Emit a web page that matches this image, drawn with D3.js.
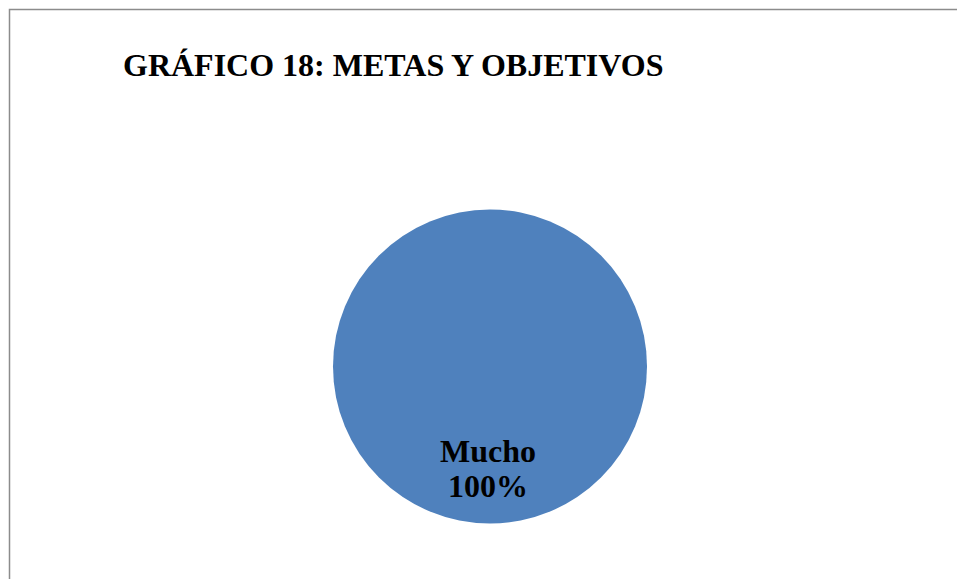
<!DOCTYPE html>
<html>
<head>
<meta charset="utf-8">
<script src="https://cdn.jsdelivr.net/npm/d3@7"></script>
<style>
  html, body { margin: 0; padding: 0; background: #fff; }
  svg { display: block; }
</style>
</head>
<body>
<svg id="chart" width="957" height="579"></svg>
<script>
// Survey answers for "metas y objetivos"
const categories = ["Mucho"];
const values = [100];
const titleText = "GRÁFICO 18: METAS Y OBJETIVOS";

const width = 957, height = 579;
const svg = d3.select("#chart");

// Chart area frame (continues past the right and bottom edges)
svg.append("rect")
  .attr("x", 9.5).attr("y", 9.5)
  .attr("width", 1000).attr("height", 1000)
  .attr("fill", "none")
  .attr("stroke", "#8c8c8c")
  .attr("stroke-width", 1.5);

svg.append("text")
  .attr("x", 123).attr("y", 76)
  .attr("font-family", "'Liberation Serif', 'Times New Roman', serif")
  .attr("font-weight", "bold")
  .attr("font-size", 32)
  .attr("fill", "#000")
  .text(titleText);

const cx = 490, cy = 366.5, radius = 157;
const data = categories.map((c, i) => ({ name: c, value: values[i] }));
const total = d3.sum(values);

const pie = d3.pie().value(d => d.value).sort(null);
const arc = d3.arc().innerRadius(0).outerRadius(radius);
const labelArc = d3.arc().innerRadius(radius * 0.73).outerRadius(radius * 0.73);

const color = d3.scaleOrdinal().domain(categories).range(["#4f81bd"]);

const g = svg.append("g").attr("transform", `translate(${cx},${cy})`);
const arcs = pie(data);

g.selectAll("path.slice")
  .data(arcs)
  .join("path")
  .attr("class", "slice")
  .attr("d", arc)
  .attr("fill", d => color(d.data.name));

const fmt = d3.format(".0%");
const labels = g.selectAll("text.lbl")
  .data(arcs)
  .join("text")
  .attr("class", "lbl")
  .attr("transform", d => `translate(${labelArc.centroid(d)})`)
  .attr("text-anchor", "middle")
  .attr("font-family", "'Liberation Serif', 'Times New Roman', serif")
  .attr("font-weight", "bold")
  .attr("font-size", 32)
  .attr("fill", "#000");

labels.append("tspan").attr("x", -2).attr("y", -19).text(d => d.data.name);
labels.append("tspan").attr("x", -2).attr("y", 16).text(d => fmt(d.data.value / total));
</script>
</body>
</html>
